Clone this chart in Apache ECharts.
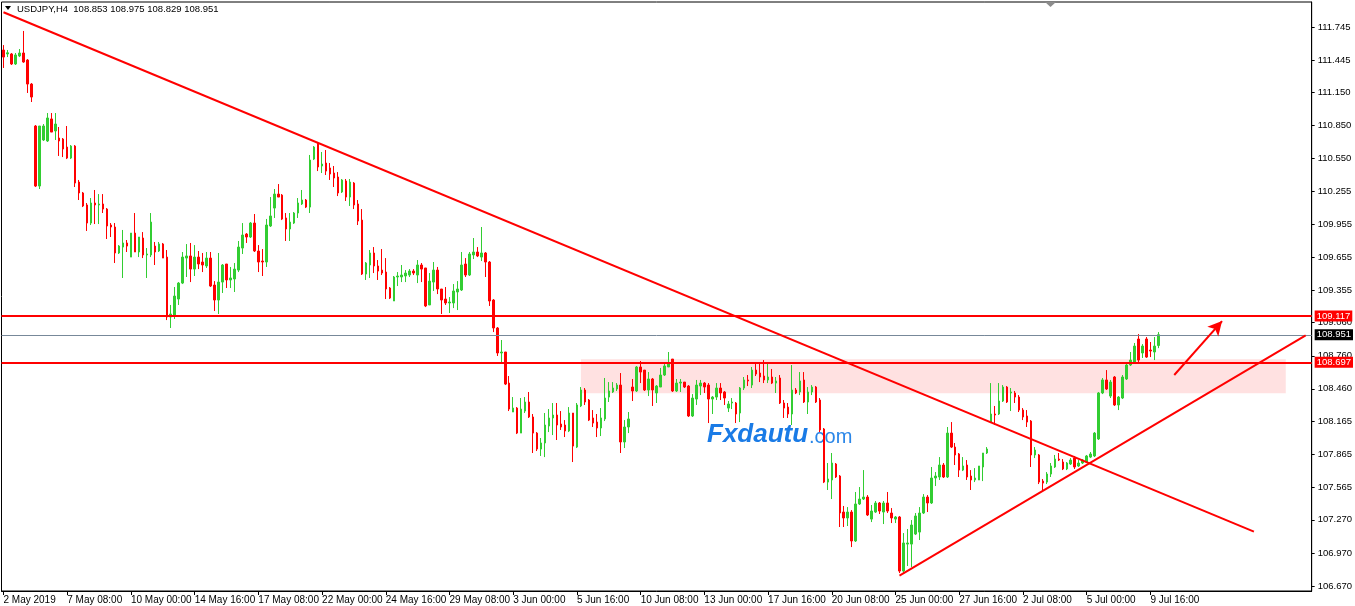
<!DOCTYPE html>
<html><head><meta charset="utf-8">
<script src="https://cdn.jsdelivr.net/npm/echarts@6/dist/echarts.min.js"></script>
<style>html,body{margin:0;padding:0;background:#fff}#c{width:1355px;height:606px}</style>
</head><body><div id="c"></div>
<script>
// ---- data (USDJPY H4, bar 0 = 2 May 2019 16:00) ----
const opens = [
111.536,111.500,111.500,111.409,111.482,111.509,111.445,111.227,110.846,110.301,
110.719,110.710,110.910,110.801,110.737,110.728,110.655,110.555,110.664,110.337,
110.238,110.129,109.965,110.147,110.129,110.138,110.092,109.947,109.929,109.693,
109.747,109.784,109.656,109.874,109.702,109.829,109.675,109.675,109.756,109.711,
109.775,109.656,109.112,109.130,109.275,109.420,109.647,109.666,109.547,109.656,
109.611,109.575,109.647,109.402,109.266,109.429,109.593,109.448,109.457,109.538,
109.738,109.865,109.838,109.965,109.711,109.620,109.611,109.938,110.101,110.228,
110.219,110.011,109.911,109.965,110.056,110.138,110.174,110.110,110.546,110.682,
110.483,110.510,110.465,110.419,110.383,110.247,110.347,110.201,110.328,110.138,
109.992,109.502,109.584,109.693,109.575,109.538,109.520,109.375,109.257,109.475,
109.475,109.484,109.493,109.529,109.493,109.584,109.557,109.221,109.429,109.538,
109.366,109.275,109.239,109.239,109.339,109.357,109.593,109.493,109.675,109.702,
109.656,109.693,109.611,109.266,109.012,108.785,108.794,108.512,108.249,108.285,
108.058,108.258,108.340,108.204,108.058,107.913,107.968,108.122,108.195,108.222,
108.140,108.131,108.077,108.240,107.931,108.304,108.449,108.358,108.195,108.158,
108.104,108.186,108.385,108.431,108.458,108.494,107.977,108.113,108.476,108.440,
108.658,108.630,108.449,108.549,108.422,108.476,108.585,108.658,108.730,108.440,
108.512,108.521,108.485,108.213,108.367,108.485,108.512,108.494,108.367,108.385,
108.467,108.431,108.285,108.331,108.331,108.240,108.467,108.540,108.494,108.630,
108.603,108.576,108.540,108.567,108.512,108.558,108.331,108.294,108.231,108.449,
108.431,108.540,108.340,108.431,108.476,108.358,108.095,107.613,107.632,107.777,
107.668,107.341,107.287,107.341,107.078,107.414,107.459,107.477,107.277,107.341,
107.423,107.341,107.423,107.332,107.277,107.296,106.805,107.050,107.050,107.141,
107.159,107.332,107.477,107.423,107.650,107.659,107.768,107.659,108.058,107.931,
107.868,107.722,107.768,107.668,107.632,107.632,107.750,107.877,108.158,108.231,
108.231,108.349,108.476,108.422,108.422,108.385,108.267,108.213,108.167,107.859,
107.859,107.622,107.613,107.686,107.750,107.822,107.795,107.732,107.777,107.831,
107.759,107.786,107.795,107.840,107.850,108.004,108.422,108.540,108.394,108.567,
108.313,108.376,108.549,108.676,108.703,108.912,108.785,108.912,108.812,108.794,
108.853];
const highs = [
111.581,111.536,111.509,111.509,111.545,111.709,111.454,111.236,110.855,110.846,
110.864,110.964,110.964,110.964,110.837,110.737,110.846,110.673,110.673,110.356,
110.247,110.147,110.192,110.265,110.228,110.228,110.101,109.965,109.965,109.765,
109.902,109.811,109.874,110.056,109.838,109.883,109.738,110.056,109.793,109.793,
109.784,109.720,109.221,109.384,109.429,109.702,109.774,109.784,109.765,109.711,
109.693,109.702,109.702,109.438,109.693,109.593,109.593,109.566,109.602,109.802,
109.965,109.874,109.974,110.047,109.765,109.729,110.002,110.201,110.274,110.319,
110.228,110.056,110.056,110.065,110.192,110.265,110.183,110.583,110.664,110.701,
110.610,110.628,110.510,110.483,110.428,110.365,110.365,110.365,110.337,110.174,
110.092,109.611,109.720,109.747,109.629,109.729,109.647,109.384,109.484,109.520,
109.584,109.538,109.547,109.547,109.629,109.602,109.557,109.511,109.611,109.566,
109.366,109.384,109.293,109.411,109.438,109.702,109.647,109.702,109.829,109.747,
109.929,109.702,109.620,109.275,109.021,108.903,108.794,108.576,108.385,108.294,
108.376,108.385,108.431,108.231,108.067,108.013,108.240,108.276,108.331,108.331,
108.258,108.176,108.294,108.240,108.331,108.476,108.467,108.367,108.267,108.231,
108.285,108.558,108.521,108.521,108.512,108.603,108.176,108.249,108.549,108.667,
108.712,108.630,108.612,108.558,108.494,108.649,108.694,108.794,108.730,108.549,
108.549,108.521,108.494,108.412,108.540,108.540,108.521,108.512,108.394,108.512,
108.512,108.440,108.349,108.376,108.340,108.476,108.567,108.585,108.658,108.685,
108.685,108.721,108.685,108.640,108.567,108.585,108.358,108.331,108.676,108.467,
108.612,108.612,108.476,108.494,108.485,108.376,108.104,107.786,107.877,107.786,
107.677,107.396,107.386,107.359,107.523,107.568,107.722,107.495,107.405,107.441,
107.432,107.441,107.523,107.377,107.305,107.305,107.150,107.187,107.268,107.332,
107.386,107.504,107.495,107.750,107.704,107.840,107.786,108.113,108.158,107.968,
107.877,107.840,107.813,107.722,107.740,107.759,107.877,107.931,108.512,108.304,
108.512,108.494,108.485,108.467,108.440,108.403,108.285,108.267,108.176,107.931,
107.868,107.641,107.704,107.786,107.859,107.877,107.822,107.795,107.831,107.850,
107.813,107.822,107.859,107.886,108.067,108.431,108.558,108.630,108.540,108.576,
108.394,108.585,108.694,108.794,108.876,108.957,108.866,108.930,108.885,108.930,
108.975];
const lows = [
111.373,111.472,111.400,111.400,111.472,111.420,111.146,111.064,110.292,110.274,
110.710,110.701,110.791,110.719,110.574,110.564,110.546,110.546,110.292,110.174,
110.110,109.893,109.947,109.956,109.956,110.056,109.820,109.838,109.602,109.684,
109.466,109.702,109.656,109.702,109.656,109.647,109.466,109.656,109.584,109.702,
109.647,109.084,109.012,109.094,109.221,109.411,109.475,109.429,109.484,109.547,
109.520,109.557,109.384,109.166,109.139,109.330,109.375,109.375,109.339,109.520,
109.684,109.784,109.829,109.702,109.520,109.484,109.566,109.929,110.011,110.201,
109.992,109.802,109.802,109.956,110.011,110.129,110.101,110.056,110.537,110.437,
110.419,110.401,110.356,110.292,110.210,110.238,110.165,110.120,110.092,109.947,
109.493,109.448,109.466,109.511,109.448,109.493,109.275,109.275,109.257,109.393,
109.429,109.429,109.475,109.493,109.420,109.429,109.202,109.221,109.348,109.320,
109.139,109.221,109.148,109.193,109.175,109.348,109.475,109.484,109.638,109.656,
109.620,109.475,109.212,108.975,108.758,108.694,108.494,108.258,108.249,108.049,
108.058,108.240,108.195,107.877,107.895,107.850,107.840,108.067,108.040,107.995,
108.086,108.022,108.067,107.795,107.922,108.294,108.313,108.167,108.113,108.022,
108.031,108.167,108.340,108.422,108.440,107.877,107.922,108.058,108.349,108.431,
108.512,108.440,108.394,108.304,108.331,108.476,108.576,108.658,108.431,108.431,
108.431,108.467,108.204,108.204,108.313,108.403,108.422,108.149,108.231,108.358,
108.358,108.313,108.249,108.276,108.149,108.158,108.449,108.485,108.467,108.576,
108.521,108.512,108.512,108.503,108.422,108.322,108.195,108.195,108.131,108.412,
108.403,108.331,108.231,108.403,108.331,108.067,107.604,107.541,107.459,107.650,
107.205,107.205,107.214,107.023,107.069,107.405,107.450,107.305,107.250,107.332,
107.323,107.232,107.332,107.241,107.241,106.787,106.787,106.851,106.842,107.132,
107.087,107.323,107.341,107.414,107.577,107.632,107.650,107.650,107.922,107.768,
107.659,107.713,107.632,107.541,107.613,107.632,107.622,107.868,108.149,108.131,
108.222,108.340,108.331,108.258,108.331,108.249,108.176,108.113,107.750,107.831,
107.595,107.541,107.595,107.659,107.741,107.804,107.722,107.722,107.768,107.732,
107.750,107.777,107.786,107.831,107.840,107.995,108.412,108.449,108.376,108.304,
108.267,108.367,108.540,108.667,108.694,108.703,108.740,108.740,108.748,108.721,
108.829];
const closes = [
111.472,111.511,111.409,111.491,111.509,111.427,111.227,111.109,110.301,110.846,
110.846,110.919,110.791,110.864,110.710,110.637,110.555,110.664,110.328,110.238,
110.120,109.965,110.147,110.129,110.138,110.092,109.938,109.929,109.693,109.756,
109.784,109.756,109.874,109.702,109.838,109.675,109.684,109.974,109.702,109.775,
109.647,109.112,109.139,109.302,109.420,109.656,109.666,109.547,109.656,109.593,
109.584,109.647,109.393,109.266,109.429,109.584,109.448,109.466,109.547,109.747,
109.856,109.838,109.965,109.711,109.611,109.611,109.947,110.029,110.228,110.201,
110.001,109.911,109.974,110.056,110.147,110.174,110.110,110.537,110.655,110.474,
110.501,110.437,110.410,110.374,110.238,110.356,110.201,110.337,110.129,109.983,
109.502,109.602,109.693,109.575,109.529,109.511,109.366,109.284,109.475,109.484,
109.493,109.511,109.529,109.511,109.584,109.547,109.212,109.438,109.538,109.366,
109.266,109.239,109.248,109.348,109.366,109.584,109.493,109.684,109.702,109.666,
109.693,109.611,109.257,109.012,108.785,108.794,108.503,108.276,108.285,108.058,
108.276,108.340,108.204,108.058,107.913,107.968,108.131,108.195,108.222,108.131,
108.113,108.077,108.240,107.940,108.313,108.449,108.340,108.176,108.149,108.104,
108.195,108.376,108.440,108.467,108.494,107.977,108.113,108.186,108.440,108.658,
108.612,108.449,108.549,108.449,108.485,108.585,108.667,108.694,108.440,108.512,
108.521,108.476,108.213,108.376,108.494,108.512,108.476,108.367,108.385,108.467,
108.422,108.376,108.322,108.340,108.231,108.467,108.540,108.531,108.630,108.594,
108.567,108.540,108.567,108.512,108.531,108.331,108.285,108.231,108.449,108.422,
108.531,108.340,108.431,108.476,108.340,108.086,107.613,107.641,107.786,107.659,
107.332,107.287,107.341,107.078,107.414,107.459,107.477,107.314,107.350,107.423,
107.350,107.423,107.350,107.287,107.296,106.805,107.060,107.060,107.223,107.305,
107.332,107.477,107.423,107.650,107.668,107.768,107.659,108.058,107.931,107.859,
107.722,107.759,107.659,107.632,107.650,107.759,107.877,107.913,108.231,108.222,
108.349,108.476,108.340,108.431,108.385,108.267,108.204,108.158,107.859,107.904,
107.613,107.604,107.686,107.759,107.822,107.813,107.732,107.786,107.813,107.750,
107.786,107.813,107.850,107.868,108.058,108.422,108.540,108.458,108.521,108.313,
108.385,108.567,108.676,108.721,108.848,108.721,108.848,108.748,108.803,108.848,
108.951];

const xTickLabels = ['2 May 2019','7 May 08:00','10 May 00:00','14 May 16:00','17 May 08:00',
  '22 May 00:00','24 May 16:00','29 May 08:00','3 Jun 00:00','5 Jun 16:00','10 Jun 08:00',
  '13 Jun 00:00','17 Jun 16:00','20 Jun 08:00','25 Jun 00:00','27 Jun 16:00','2 Jul 08:00',
  '5 Jul 00:00','9 Jul 16:00'];
const yTickValues = [106.670,106.970,107.270,107.565,107.865,108.165,108.460,108.760,109.060,
  109.355,109.655,109.955,110.255,110.550,110.850,111.150,111.445,111.745];

const resistance = 109.117;
const support = 108.697;
const bidPrice = 108.951;
const zoneBars = [145, 322];
const zonePrices = [108.728, 108.419];
const fallingTrend = [[0, 111.879], [314, 107.163]];
const risingTrend = [[225, 106.764], [327, 108.945]];
const arrowPath = [[294, 108.585], [306, 109.075]];
const titleText = 'USDJPY,H4  108.853 108.975 108.829 108.951';

// ---- categories: H4 bars, weekends skipped ----
const MONTHS = ['Jan','Feb','Mar','Apr','May','Jun','Jul','Aug'];
const categories = [];
let t = Date.UTC(2019, 4, 2, 16);
while (categories.length < 329) {
  const d = new Date(t);
  const wd = d.getUTCDay();
  if (wd !== 0 && wd !== 6) {
    categories.push(d.getUTCDate() + ' ' + MONTHS[d.getUTCMonth()] + ' ' +
      String(d.getUTCHours()).padStart(2, '0') + ':00');
  }
  t += 4 * 3600 * 1000;
}
const candles = opens.map((o, i) => [o, closes[i], lows[i], highs[i]]);
const isTick = (idx) => idx % 16 === 0 && idx / 16 < xTickLabels.length;

const FONT = '"Liberation Sans", Arial, sans-serif';
const RED = '#FF0000', GREEN = '#32CD32';
const boxLabel = (v, bg) => ({show: true, position: 'end', distance: 3, formatter: v.toFixed(3), color: '#fff',
  backgroundColor: bg, padding: [1, 2, 0, 2], fontSize: 9.5, fontFamily: FONT});

const chart = echarts.init(document.getElementById('c'), null, {renderer: 'canvas'});
chart.setOption({
  animation: false,
  backgroundColor: '#ffffff',
  grid: {left: 1.5, right: 37.5, top: 2, bottom: 15, show: true, borderColor: '#000', borderWidth: 1, containLabel: false},
  xAxis: {
    type: 'category', data: categories, boundaryGap: true,
    axisLine: {show: true, lineStyle: {color: '#000', width: 1}},
    axisTick: {show: true, alignWithLabel: true, interval: isTick, length: 4, lineStyle: {color: '#000'}},
    axisLabel: {show: true, interval: isTick, formatter: (v, i) => xTickLabels[i / 16],
      align: 'left', color: '#000', fontSize: 10, fontFamily: FONT, margin: 4},
    splitLine: {show: false}
  },
  yAxis: {
    type: 'value', position: 'right', min: 106.624, max: 111.972,
    axisLine: {show: true, lineStyle: {color: '#000', width: 1}},
    axisTick: {show: true, inside: false, length: 3, customValues: yTickValues, lineStyle: {color: '#000'}},
    axisLabel: {show: true, customValues: yTickValues, formatter: v => v.toFixed(3),
      color: '#000', fontSize: 9.5, fontFamily: FONT, margin: 6},
    splitLine: {show: false}
  },
  graphic: [
    {type: 'polygon', z: 10, shape: {points: [[5, 6], [11, 6], [8, 10]]}, style: {fill: '#000'}},
    {type: 'text', z: 10, x: 17, y: 9, style: {text: titleText, fill: '#000', fontSize: 9.5, fontFamily: FONT, verticalAlign: 'middle'}},
    {type: 'polygon', z: 10, shape: {points: [[1045, 2], [1056, 2], [1050.5, 7]]}, style: {fill: '#8c8c8c'}},
    {type: 'text', z: 0, x: 707, y: 435, style: {text: 'Fxdautu', fill: '#1A7BE6', fontSize: 26, fontWeight: 'bold', fontStyle: 'italic', fontFamily: FONT, verticalAlign: 'middle'}},
    {type: 'text', z: 0, x: 809, y: 437, style: {text: '.com', fill: '#2A86E8', fontSize: 20, fontFamily: FONT, verticalAlign: 'middle'}}
  ],
  series: [
    {
      type: 'line', data: [], z: 1, silent: true,
      markArea: {silent: true, itemStyle: {color: '#FFE1E1'},
        data: [[{coord: [zoneBars[0], zonePrices[0]]}, {coord: [zoneBars[1], zonePrices[1]]}]]}
    },
    {
      type: 'candlestick', name: 'USDJPY', z: 3, data: candles, barWidth: 2, silent: true,
      itemStyle: {color: GREEN, color0: RED, borderColor: GREEN, borderColor0: RED, borderWidth: 1}
    },
    {
      type: 'line', data: [], z: 5, silent: true,
      markLine: {
        silent: true, symbol: ['none', 'none'], animation: false,
        label: {show: false},
        data: [
          {yAxis: bidPrice, lineStyle: {color: '#778899', width: 1, type: 'solid'}, label: boxLabel(bidPrice, '#000')},
          {yAxis: resistance, lineStyle: {color: RED, width: 2, type: 'solid'}, label: boxLabel(resistance, RED)},
          {yAxis: support, lineStyle: {color: RED, width: 2, type: 'solid'}, label: boxLabel(support, RED)},
          [{coord: fallingTrend[0], lineStyle: {color: RED, width: 2, type: 'solid'}}, {coord: fallingTrend[1]}],
          [{coord: risingTrend[0], lineStyle: {color: RED, width: 2, type: 'solid'}}, {coord: risingTrend[1]}],
          [{coord: arrowPath[0], symbol: 'none', lineStyle: {color: RED, width: 2, type: 'solid'}},
           {coord: arrowPath[1], symbol: 'arrow', symbolSize: [11, 14]}]
        ]
      }
    }
  ]
});
</script>
</body></html>
